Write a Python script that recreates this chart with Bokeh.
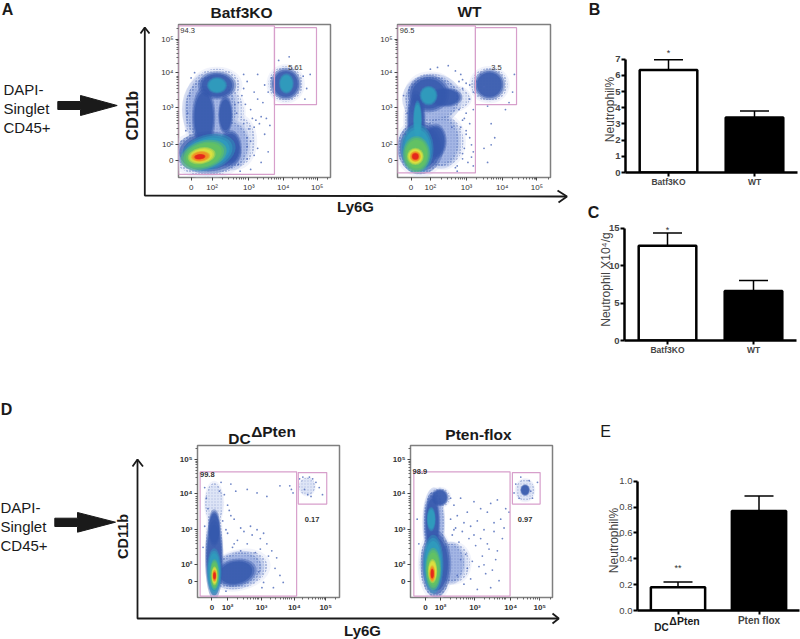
import math
from bokeh.core.properties import value
from bokeh.embed import file_html
from bokeh.models import FactorRange, FixedTicker, Range1d, TeeHead, Whisker, ColumnDataSource, NumeralTickFormatter
from bokeh.plotting import figure
from bokeh.resources import INLINE

# ---------- data: bar panels ----------
B_cats = ["Batf3KO", "WT"]
B_vals = [6.33, 3.40]
B_errs = [6.97, 3.80]
B_ticks = [0, 1, 2, 3, 4, 5, 6, 7]
C_cats = ["Batf3KO", "WT"]
C_vals = [12.65, 6.60]
C_errs = [14.35, 8.00]
C_ticks = [0, 5, 10, 15]
E_cats = [" ", "Pten flox"]
E_vals = [0.18, 0.77]
E_errs = [0.22, 0.885]
E_ticks = [0.0, 0.2, 0.4, 0.6, 0.8, 1.0]

# ---------- data: flow panels (log10 display units) ----------
# density level: 0 pale, 0.5 mid, 1 blue, 2 teal, 3 green, 4 yellow, 5 orange, 6 red
# (level, x, y, width, height, angle)
A1_blobs = [
    (0, 1.76, 2.88, 1.05, 2.1, 0), (0, 2.14, 3.69, 1.3, 0.95, 0), (0, 2.7, 2.1, 1.05, 1.45, 0),
    (0, 1.86, 1.73, 1.95, 1.25, 0), (0, 4.10, 3.73, 0.98, 1.0, 0), (0, 2.4, 2.95, 1.0, 1.3, 0),
    (0.5, 1.95, 3.0, 1.45, 1.9, 0), (0.5, 2.55, 2.0, 0.95, 1.3, 0),
    (1, 1.76, 2.78, 0.6, 1.6, 0), (1, 2.14, 3.69, 0.98, 0.72, 0), (1, 2.38, 2.85, 0.38, 1.0, 0),
    (1, 2.52, 1.92, 0.58, 0.9, 0), (1, 1.90, 1.78, 1.68, 1.08, 0), (1, 4.10, 3.73, 0.78, 0.82, 0),
    (2, 2.14, 3.69, 0.52, 0.42, 0), (2, 4.12, 3.74, 0.38, 0.52, 0), (2, 1.88, 1.78, 1.45, 0.9, 0.3),
    (3, 1.76, 1.71, 1.2, 0.72, 0.3), (4, 1.70, 1.69, 0.72, 0.42, 0.2),
    (5, 1.67, 1.67, 0.5, 0.27, 0.1), (6, 1.65, 1.66, 0.3, 0.14, 0.1),
]
A2_blobs = [
    (0, 1.72, 1.92, 1.3, 1.5, 0), (0, 1.58, 2.7, 0.62, 1.6, 0), (0, 2.0, 3.45, 1.3, 1.15, 0),
    (0, 2.55, 3.32, 1.1, 0.72, 0), (0, 2.35, 2.1, 1.15, 1.45, 0), (0, 3.65, 3.71, 1.02, 0.95, 0),
    (0.5, 2.05, 3.3, 1.5, 1.3, 0), (0.5, 2.3, 2.1, 1.0, 1.4, 0),
    (1, 1.72, 1.92, 1.15, 1.35, 0), (1, 1.6, 2.7, 0.48, 1.5, 0), (1, 1.95, 3.45, 1.05, 0.95, 0),
    (1, 2.42, 3.35, 0.85, 0.5, 0), (1, 2.15, 2.1, 0.55, 0.9, 0), (1, 3.65, 3.71, 0.78, 0.78, 0),
    (2, 1.95, 3.4, 0.45, 0.5, 0), (2, 1.64, 2.7, 0.22, 1.0, 0), (2, 1.63, 1.88, 0.82, 1.28, 0),
    (3, 1.61, 1.73, 0.68, 0.92, 0), (4, 1.58, 1.67, 0.42, 0.44, 0), (5, 1.58, 1.67, 0.28, 0.28, 0),
    (6, 1.58, 1.67, 0.18, 0.18, 0),
]
D1_blobs = [
    (0, 2.35, 1.85, 1.75, 1.05, 0.25), (0, 1.59, 3.75, 0.55, 1.15, 0), (0, 1.59, 2.5, 0.5, 2.5, 0),
    (0, 4.43, 4.23, 0.48, 0.5, 0),
    (0.5, 2.3, 1.85, 1.5, 0.95, 0.25),
    (1, 2.25, 1.78, 1.15, 0.7, 0.2), (1, 1.59, 2.2, 0.5, 2.15, 0), (1, 1.59, 3.05, 0.34, 0.95, 0),
    (2, 1.59, 1.8, 0.4, 1.2, 0), (3, 1.60, 1.72, 0.26, 0.78, 0), (4, 1.60, 1.69, 0.17, 0.48, 0),
    (5, 1.60, 1.69, 0.12, 0.32, 0), (6, 1.60, 1.69, 0.08, 0.2, 0),
]
D2_blobs = [
    (0, 2.4, 2.05, 0.95, 1.1, 0), (0, 1.75, 3.2, 0.55, 1.7, 0), (0, 1.98, 3.92, 0.6, 0.55, 0),
    (0, 1.85, 2.0, 0.95, 1.85, 0), (0, 4.53, 4.13, 0.55, 0.62, 0),
    (0.5, 1.8, 3.2, 0.6, 1.8, 0), (0.5, 2.3, 2.05, 0.8, 1.1, 0),
    (1, 1.86, 2.02, 0.82, 1.72, 0), (1, 1.75, 3.2, 0.42, 1.55, 0), (1, 1.98, 3.92, 0.46, 0.46, 0),
    (1, 4.53, 4.13, 0.26, 0.3, 0),
    (2, 1.72, 3.3, 0.24, 0.62, 0), (2, 1.78, 2.02, 0.55, 1.5, 0),
    (3, 1.78, 1.88, 0.42, 1.08, 0), (4, 1.76, 1.82, 0.25, 0.62, 0), (5, 1.75, 1.75, 0.16, 0.42, 0),
    (6, 1.75, 1.75, 0.09, 0.26, 0),
]
A1_dots_x = [2.9, 3.0, 3.2, 3.3, 3.1, 3.4, 3.2, 3.5, 3.0, 3.3, 3.6, 2.9, 3.0, 3.4, 3.7, 3.6, 3.5, 4.7, 4.8, 3.9,
             4.2, 3.3, 2.9, 1.25, 1.3, 1.35, 3.15, 3.25, 3.35, 3.05, 2.75, 2.85, 2.95, 3.45, 3.55, 3.65, 4.65, 4.6, 3.75, 3.8,
             1.4, 1.5, 2.75, 2.8, 3.1, 3.2, 2.65, 2.7, 3.0, 3.1]
A1_dots_y = [3.6, 3.8, 3.5, 3.3, 3.0, 2.8, 2.5, 2.3, 2.2, 1.9, 1.8, 2.6, 1.6, 1.5, 3.9, 3.5, 3.7, 3.6, 4.0, 4.4,
             4.5, 4.0, 4.0, 2.4, 2.9, 3.4, 2.75, 2.7, 2.6, 2.45, 3.2, 3.4, 3.15, 3.2, 2.75, 2.55, 3.3, 3.95, 3.5, 3.9,
             3.9, 4.05, 1.45, 1.25, 1.3, 1.7, 3.15, 2.9, 1.95, 2.1]
A2_dots_x = [2.8, 2.9, 3.0, 3.1, 3.15, 3.2, 2.95, 2.85, 3.05, 3.2, 2.75, 2.9, 3.1, 3.2, 3.0, 3.1, 2.9, 3.5, 3.6, 3.8,
             4.2, 4.3, 4.1, 4.35, 3.7, 2.8, 2.85, 2.5, 2.7, 2.9, 3.0, 3.1, 1.3, 1.35, 1.25, 2.0, 2.2, 2.6, 3.2, 3.0,
             2.95, 3.15, 3.6, 3.3, 3.4, 3.5, 3.7, 2.7, 2.75, 2.9]
A2_dots_y = [3.0, 2.7, 2.4, 2.2, 2.0, 1.8, 1.9, 2.5, 1.5, 1.4, 1.4, 1.6, 2.6, 3.0, 2.9, 3.3, 3.6, 1.9, 1.5, 2.2,
             3.2, 3.5, 3.0, 4.0, 2.6, 3.8, 4.0, 4.25, 4.1, 3.85, 3.75, 3.7, 2.3, 2.9, 3.4, 4.15, 4.2, 2.5, 3.5, 2.3,
             2.75, 1.65, 3.1, 3.8, 4.0, 3.65, 2.0, 1.35, 1.25, 1.75]
D1_dots_x = [1.3, 1.35, 1.4, 1.8, 1.9, 2.0, 2.1, 1.85, 1.95, 2.2, 2.3, 2.5, 2.6, 2.75, 2.9, 3.0, 3.1, 3.2, 3.35, 3.5,
             2.4, 2.7, 2.85, 3.0, 3.25, 3.45, 3.6, 3.7, 3.05, 2.2, 2.1, 1.75, 2.05, 2.25, 2.6, 2.9, 3.2, 3.6, 3.9, 3.95,
             4.0, 2.0, 1.3, 1.25, 2.15, 2.4, 3.1, 2.95, 3.4, 1.95, 4.7, 4.8, 4.9, 4.2, 4.3, 4.6, 4.45, 4.35, 4.55, 4.5]
D1_dots_y = [4.2, 3.9, 3.6, 4.35, 4.0, 3.7, 3.4, 3.25, 3.0, 3.3, 2.7, 2.95, 2.6, 2.85, 3.0, 2.75, 2.9, 2.6, 2.4, 2.2,
             3.05, 3.1, 2.35, 2.45, 2.25, 1.9, 1.7, 1.5, 1.35, 2.6, 4.3, 4.1, 3.55, 4.1, 4.15, 4.05, 3.95, 4.25, 4.25, 4.15,
             4.05, 2.9, 3.1, 2.5, 2.5, 2.4, 1.5, 1.8, 1.35, 1.25, 4.35, 4.2, 4.0, 4.45, 4.5, 4.45, 4.0, 4.15, 3.95, 4.5]
D2_dots_x = [2.3, 2.4, 2.5, 2.6, 2.7, 2.8, 2.9, 3.0, 3.1, 3.2, 3.3, 3.4, 3.5, 3.6, 3.7, 3.8, 3.9, 2.45, 2.65, 2.85,
             3.05, 3.25, 3.45, 3.65, 3.85, 2.35, 2.55, 2.75, 2.95, 3.15, 3.35, 3.55, 3.75, 3.95, 2.5, 2.7, 2.9, 3.1, 3.3, 3.5,
             3.7, 2.6, 2.8, 3.0, 3.2, 3.4, 3.6, 2.3, 2.4, 1.35, 1.3, 4.05, 4.2, 4.9, 4.35, 4.75, 4.65, 4.4, 4.7, 4.25]
D2_dots_y = [3.9, 3.7, 3.4, 3.9, 3.2, 3.5, 3.1, 3.8, 3.25, 3.6, 3.0, 3.5, 3.75, 3.2, 3.85, 3.3, 3.05, 3.05, 2.95, 2.75,
             2.55, 2.25, 2.45, 2.15, 2.75, 2.85, 2.65, 2.3, 2.1, 1.95, 1.75, 1.85, 1.55, 3.6, 1.7, 1.45, 1.6, 1.3, 2.0, 1.35,
             2.4, 2.15, 1.9, 2.85, 2.75, 2.6, 2.95, 3.3, 3.0, 2.6, 3.3, 3.5, 4.05, 4.35, 3.9, 3.9, 4.4, 4.5, 4.1, 4.3]
Y_TICKS = [1.56, 2.0, 3.05, 4.05, 5.0]
Y_TICKS_D = [1.54, 2.0, 3.02, 4.04, 4.99]
X_TICKS_A1 = [1.40, 2.0, 3.05, 4.03, 5.0]
X_TICKS_A2 = [1.46, 2.0, 3.01, 4.01, 4.98]
X_TICKS_D1 = [1.52, 2.0, 3.04, 4.04, 5.0]
X_TICKS_D2 = [1.55, 2.0, 3.03, 4.10, 4.97]
TICK_TEXT = ["0", "10²", "10³", "10⁴", "10⁵"]

LEVELS = {0: "#dbe2f5", 0.5: "#9fb2e2", 1: "#3558ad", 2: "#2f9fbd", 3: "#66c45c",
          4: "#e6e23c", 5: "#f08a22", 6: "#e4201c"}
SOFT = [(1.12, 0.4), (1.0, 0.55), (0.88, 0.7)]
PINK = "#d79fcb"
F = "Liberation Sans"


def place(p, x, y):
    p.styles = {"position": "absolute", "left": f"{x}px", "top": f"{y}px"}
    return p


def minor(x0, x1):
    out = []
    for d in range(1, 6):
        for m in range(2, 10):
            v = d + math.log10(m)
            if 2 < v < x1 and v > x0:
                out.append(v)
    return out


def flow(frame, xr, yr, xt, yt, blobs, dx, dy, gates, labels, bold=False):
    left, top, right, bottom = frame
    bl, bt, br, bb = 32, 2, 3, 20
    p = figure(width=int(right - left) + bl + br, height=int(bottom - top) + bt + bb,
               x_range=Range1d(*xr), y_range=Range1d(*yr), toolbar_location=None,
               output_backend="svg", min_border_left=bl, min_border_top=bt,
               min_border_right=br, min_border_bottom=bb)
    p.background_fill_color = None
    p.border_fill_color = None
    p.grid.visible = False
    p.outline_line_color = "#7f7f7f"
    p.outline_line_width = 1.5
    for lev in sorted(LEVELS):
        rows = [b for b in blobs if b[0] == lev]
        for scale, alpha in SOFT:
            if rows:
                extra = {}
                if lev < 1 and scale == 1.0:
                    extra = dict(hatch_pattern="dot", hatch_color="#2f4fa6", hatch_scale=3, hatch_weight=1,
                                 hatch_alpha=0.75)
                p.ellipse(x=[r[1] for r in rows], y=[r[2] for r in rows],
                          width=[r[3] * scale for r in rows], height=[r[4] * scale for r in rows],
                          angle=[r[5] for r in rows], fill_color=LEVELS[lev], line_color=None,
                          fill_alpha=alpha, **extra)
    p.scatter(dx, dy, size=1.8, color="#4a67b8", line_color=None, alpha=0.8)
    p.quad(left=[g[0] for g in gates], right=[g[1] for g in gates], bottom=[g[2] for g in gates],
           top=[g[3] for g in gates], fill_color=None, line_color=PINK, line_width=1.2)
    p.text([l[0] for l in labels], [l[1] for l in labels], text=[l[2] for l in labels],
           text_font=value(F), text_font_size="7.5px", text_color="#333333",
           text_align="center", text_baseline="middle",
           text_font_style="bold" if bold else "normal")
    for ax, ticks in ((p.xaxis[0], xt), (p.yaxis[0], yt)):
        rng = xr if ax is p.xaxis[0] else yr
        ax.ticker = FixedTicker(ticks=ticks, minor_ticks=minor(rng[0], rng[1]))
        ax.major_label_overrides = {t: s for t, s in zip(ticks, TICK_TEXT)}
        ax.axis_line_color = None
        ax.major_tick_line_color = "#444444"
        ax.minor_tick_line_color = "#666666"
        ax.major_tick_in = 0
        ax.major_tick_out = 3
        ax.minor_tick_in = 0
        ax.minor_tick_out = 2
        ax.major_label_text_font = F
        ax.major_label_text_font_size = "8px"
        ax.major_label_text_color = "#333333"
        ax.major_label_standoff = 2
        if bold:
            ax.major_label_text_font_style = "bold"
    return place(p, left - bl, top - bt)


def bars(frame, top_tick, cats, vals, errs, ticks, ylabel, stars, star_y, tickbold=True, lw=2.5,
         cat_size="8.5px", standoff=-5, tee=29, fmt=None):
    left, top, right, bottom, top_tick_px = frame
    y_end = top_tick * (bottom - top) / (bottom - top_tick_px)
    bl, bt, br, bb = 42, 1, 1, 26
    p = figure(width=int(right - left) + bl + br, height=int(bottom - top) + bt + bb,
               x_range=FactorRange(factors=cats), y_range=Range1d(0, y_end), toolbar_location=None,
               output_backend="svg", min_border_left=bl, min_border_top=bt,
               min_border_right=br, min_border_bottom=bb)
    p.background_fill_color = None
    p.border_fill_color = None
    p.grid.visible = False
    p.outline_line_color = None
    p.vbar(x=cats[:1], top=vals[:1], width=0.67, fill_color="white", line_color="black", line_width=lw)
    p.vbar(x=cats[1:], top=vals[1:], width=0.67, fill_color="black", line_color="black", line_width=lw)
    src = ColumnDataSource(dict(x=cats, v=vals, e=errs))
    p.add_layout(Whisker(base="x", upper="e", lower="v", source=src, line_width=1.5, line_color="black",
                         upper_head=TeeHead(size=tee, line_width=1.5, line_color="black"), lower_head=None))
    p.text(x=cats[:1], y=[star_y], text=[stars], text_font=value(F), text_font_size="9px",
           text_color="#333333", text_align="center", text_baseline="middle")
    ya, xa = p.yaxis[0], p.xaxis[0]
    ya.ticker = FixedTicker(ticks=ticks)
    if fmt:
        ya.formatter = NumeralTickFormatter(format=fmt)
    ya.bounds = (ticks[0], ticks[-1])
    ya.minor_tick_line_color = None
    ya.axis_line_width = lw
    ya.major_tick_line_width = 2
    ya.major_tick_in = 0
    ya.major_tick_out = 4
    ya.major_label_text_font = F
    ya.major_label_text_font_size = "9.5px"
    ya.major_label_standoff = 1
    if tickbold:
        ya.major_label_text_font_style = "bold"
    else:
        ya.major_label_text_color = "#444444"
    ya.axis_label = ylabel
    ya.axis_label_text_font = F
    ya.axis_label_text_font_size = "12px"
    ya.axis_label_text_font_style = "normal"
    ya.axis_label_text_color = "#444444"
    ya.axis_label_standoff = standoff
    xa.axis_line_width = lw
    xa.major_tick_line_width = 2
    xa.major_tick_in = 0
    xa.major_tick_out = 4
    xa.minor_tick_line_color = None
    xa.major_label_text_font = F
    xa.major_label_text_font_size = cat_size
    xa.major_label_text_font_style = "bold"
    xa.major_label_standoff = 0
    return place(p, left - bl, top - bt)


# ---------- backdrop with page-level annotation ----------
bg = figure(width=800, height=639, x_range=Range1d(0, 800), y_range=Range1d(639, 0),
            toolbar_location=None, output_backend="svg", min_border=0,
            x_axis_location=None, y_axis_location=None)
bg.grid.visible = False
bg.outline_line_color = None
bg.background_fill_color = None
bg.border_fill_color = None
place(bg, 0, 0)


def note(x, y, s, size, bold=False, align="center", angle=0, color="#1a1a1a"):
    bg.text([x], [y], text=[s], text_font=value(F), text_font_size=f"{size}px",
            text_font_style="bold" if bold else "normal", text_align=align,
            text_baseline="middle", angle=angle, text_color=color)


for x, y, s in [(7, 9, "A"), (594, 9, "B"), (593, 212, "C"), (6, 409, "D"), (605, 431, "E")]:
    note(x, y, s, 16, True if s != "E" else False)
for x, y, s in [(3, 89, "DAPI-"), (3, 108, "Singlet"), (3, 127, "CD45+"),
                (0, 507, "DAPI-"), (0, 526, "Singlet"), (0, 545, "CD45+")]:
    note(x, y, s, 15, align="left")
note(241, 12, "Batf3KO", 15.5, True)
note(469, 11, "WT", 15.5, True)
note(239, 438, "DC", 15.5, True)
note(273, 431, "ΔPten", 15.5, True)
note(478, 434, "Pten-flox", 15.5, True)
note(132, 115, "CD11b", 16, True, angle=math.pi / 2)
note(122, 536, "CD11b", 14.5, True, angle=math.pi / 2)
note(355, 206, "Ly6G", 15, True)
note(362, 630, "Ly6G", 15, True)
# superscript category label of panel E
note(661, 627, "DC", 10, True)
note(684, 620, "ΔPten", 10.5, True)

# thick arrows
for xs, ys in [([57.3, 80, 80, 116.7, 80, 80, 57.3], [101, 101, 95, 105, 115, 109, 109]),
               ([54.3, 77, 77, 115, 77, 77, 54.3], [517.7, 517.7, 512, 521.7, 531.7, 526, 526])]:
    bg.patch(xs, ys, color="#1a1a1a")
# axis arrows
for xs, ys in [([144.3, 144.3, 566], [27, 195, 196]),
               ([140, 144.3, 149], [33, 27, 33]),
               ([557, 566.5, 558], [190, 196, 202]),
               ([137, 137, 558], [459, 618, 618]),
               ([132, 137, 142.5], [466, 459, 466]),
               ([552, 558.3, 552], [613, 618, 623])]:
    bg.line(xs, ys, line_color="#1a1a1a", line_width=1.8)

a1 = flow((178, 24, 330, 177), (1.04, 5.38), (1.07, 5.42), X_TICKS_A1, Y_TICKS, A1_blobs, A1_dots_x, A1_dots_y,
          [(1.04, 3.78, 1.16, 5.38), (3.78, 4.98, 3.14, 5.33)],
          [(1.3, 5.24, "94.3"), (4.38, 4.2, "5.61")])
a2 = flow((397, 24, 550, 177), (1.08, 5.36), (1.07, 5.42), X_TICKS_A2, Y_TICKS, A2_blobs, A2_dots_x, A2_dots_y,
          [(1.08, 3.26, 1.2, 5.38), (3.26, 4.41, 3.14, 5.33)],
          [(1.35, 5.24, "96.5"), (3.85, 4.2, "3.5")])
d1 = flow((197, 445, 339, 597), (1.08, 5.42), (1.07, 5.4), X_TICKS_D1, Y_TICKS_D, D1_blobs, D1_dots_x, D1_dots_y,
          [(1.16, 4.11, 1.11, 4.65), (4.16, 5.03, 3.73, 4.63)],
          [(1.38, 4.57, "99.8"), (4.58, 3.3, "0.17")], bold=True)
d2 = flow((410, 445, 552, 597), (1.1, 5.35), (1.07, 5.4), X_TICKS_D2, Y_TICKS_D, D2_blobs, D2_dots_x, D2_dots_y,
          [(1.2, 4.08, 1.11, 4.65), (4.15, 4.98, 3.73, 4.63)],
          [(1.38, 4.65, "98.9"), (4.53, 3.3, "0.97")], bold=True)

b = bars((625, 46, 797, 172, 58.7), 7, B_cats, B_vals, B_errs, B_ticks, "Neutrophil%", "*", 7.37)
c = bars((624, 218, 796, 340.7, 227.7), 15, C_cats, C_vals, C_errs, C_ticks, "Neutrophil X10⁴/g", "*", 14.7, standoff=-7)
e = bars((637, 470, 799, 610, 480.7), 1.0, E_cats, E_vals, E_errs, E_ticks, "Neutrophil%", "**", 0.33,
         tickbold=False, cat_size="10px", fmt="0.0")

open("out.html", "w").write(file_html([bg, a1, a2, d1, d2, b, c, e], INLINE))
